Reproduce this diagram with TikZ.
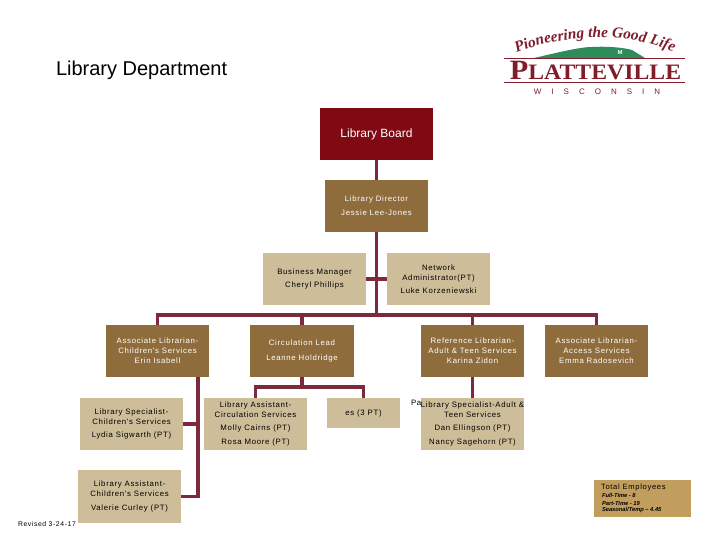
\documentclass[tikz,border=0pt]{standalone}
\usepackage{fontspec}
\setmainfont{Liberation Sans}
\newfontfamily\lbl[LetterSpace=9]{Liberation Sans}
\newfontfamily\widelbl[LetterSpace=125]{Liberation Sans}
\newfontfamily\serifb[Ligatures=TeX]{Liberation Serif}
\usetikzlibrary{decorations.text}
\definecolor{boardred}{HTML}{7F0A14}
\definecolor{linered}{HTML}{7B2B3B}
\definecolor{tanbox}{HTML}{CDBE99}
\definecolor{brownbox}{HTML}{8F6C3B}
\definecolor{totalbox}{HTML}{C19E5E}
\definecolor{logored}{HTML}{7F1D2B}
\definecolor{logogreen}{HTML}{2E8B5A}
\newcommand{\smalltxt}{\lbl\fontsize{5.85pt}{7.4pt}\selectfont}
\tikzset{
  x=0.75pt,y=-0.75pt,
  sized/.style 2 args={minimum width=#1*0.75pt,minimum height=#2*0.75pt},
  orgbox/.style={inner sep=0pt,outer sep=0pt,align=center,font=\smalltxt},
  tanb/.style={orgbox,fill=tanbox,text=black},
  brownb/.style={orgbox,fill=brownbox,text=white},
  link/.style={draw=linered,line width=2.3pt},
  plain/.style={inner sep=0pt,outer sep=0pt},
  tiny/.style={plain,anchor=west,font=\bfseries\itshape\fontsize{4.3pt}{5pt}\selectfont},
}
\begin{document}
\begin{tikzpicture}
\useasboundingbox[fill=white] (0,0) rectangle (720,540);
% title
\node[plain,anchor=west,font=\fontsize{15pt}{18pt}\selectfont] (title) at (56,70) {Library Department};
% logo
\path[decorate,decoration={text along path,text align=center,
  text={|\serifb\itshape\bfseries\fontsize{11.5pt}{14pt}\selectfont\color{logored}|Pioneering the Good Life}}]
  (514,54) .. controls (560,34) and (630,31) .. (676,53);
\fill[logogreen] (534,58) .. controls (560,52) and (580,47) .. (592,47) .. controls (610,46) and (625,48) .. (632,50) -- (645,58) -- cycle;
\node[plain,text=white,font=\bfseries\fontsize{4.5pt}{5pt}\selectfont] (hillm) at (620,52.5) {M};
\draw[logored,line width=0.7pt] (504,58.5) -- (685,58.5);
\draw[logored,line width=0.7pt] (504,82.5) -- (685,82.5);
\node[plain,text=logored,xscale=1.08,font=\serifb\bfseries\fontsize{16.5pt}{18pt}\selectfont] (platte) at (595.5,70.5) {{\fontsize{21pt}{21pt}\selectfont P}LATTEVILLE};
\node[plain,text=logored,font=\widelbl\fontsize{6pt}{7pt}\selectfont] (wisc) at (597,92) {WISCONSIN};
% stray text under the box
\node[plain,anchor=west,font=\smalltxt] (stray) at (411,403) {Pa};
% boxes
\node[orgbox,fill=boardred,text=white,sized={113}{52},font=\fontsize{9pt}{11pt}\selectfont] (board) at (376.5,134) {Library Board};
\node[brownb,sized={103}{52}] (director) at (376.5,205.5) {Library Director\\[3.5pt]Jessie Lee-Jones};
\node[tanb,sized={103}{52}] (business) at (314.5,279) {Business Manager\\[2.5pt]Cheryl Phillips};
\node[tanb,sized={103}{52}] (network) at (438.5,279) {Network\\Administrator(PT)\\[2.5pt]Luke Korzeniewski};
\node[brownb,sized={103}{52}] (assocc) at (157.5,351) {Associate Librarian-\\Children's Services\\Erin Isabell};
\node[brownb,sized={104}{52}] (circ) at (302,351) {Circulation Lead\\[4pt]Leanne Holdridge};
\node[brownb,sized={103}{52}] (refer) at (472.5,351) {Reference Librarian-\\Adult \& Teen Services\\Karina Zidon};
\node[brownb,sized={103}{52}] (access) at (596.5,351) {Associate Librarian-\\Access Services\\Emma Radosevich};
\node[tanb,sized={103}{52}] (specc) at (131.5,424) {Library Specialist-\\Children's Services\\[2.5pt]Lydia Sigwarth (PT)};
\node[tanb,sized={103}{52}] (asstcirc) at (255.5,424) {Library Assistant-\\Circulation Services\\[2.5pt]Molly Cairns (PT)\\[2.5pt]Rosa Moore (PT)};
\node[tanb,sized={73}{30}] (pages) at (363.5,413) {es (3 PT)};
\node[tanb,sized={103}{52}] (speca) at (472.5,424) {Library Specialist-Adult \&\\Teen Services\\[2.5pt]Dan Ellingson (PT)\\[2.5pt]Nancy Sagehorn (PT)};
\node[tanb,sized={103}{53}] (asstc) at (129.5,496.5) {Library Assistant-\\Children's Services\\[2.5pt]Valerie Curley (PT)};
\node[orgbox,fill=totalbox,sized={97}{37}] (total) at (642.5,498.5) {};
\node[plain,anchor=west,font=\lbl\fontsize{5.7pt}{7pt}\selectfont] (totalt) at (601,488) {Total Employees};
\node[tiny] (full) at (602,495.5) {Full-Time - 8};
\node[tiny] (part) at (602,503) {Part-Time - 19};
\node[tiny] (seas) at (602,510.5) {Seasonal/Temp -- 4.45};
\node[plain,anchor=west,font=\lbl\fontsize{5.1pt}{7pt}\selectfont] (revised) at (18,524) {Revised 3-24-17};
% connectors
\coordinate (bus) at (376.5,315);
\coordinate (cbus) at (302,387);
\coordinate (kbus) at (198,496.5);
\draw[link] (board.south) -- (director.north);
\draw[link] (director.south) -- (bus);
\draw[link] (business.east) -- (network.west);
\draw[link] (assocc.north) |- (bus) -| (access.north);
\draw[link] (bus) -| (circ.north);
\draw[link] (bus) -| (refer.north);
\draw[link] (circ.south) -- (cbus);
\draw[link] (asstcirc.north) |- (cbus) -| (pages.north);
\draw[link] (refer.south) -- (speca.north);
\draw[link] (assocc.south -| kbus) -- (kbus) -- (asstc.east);
\draw[link] (specc.east) -- (specc.east -| kbus);
\end{tikzpicture}
\end{document}
